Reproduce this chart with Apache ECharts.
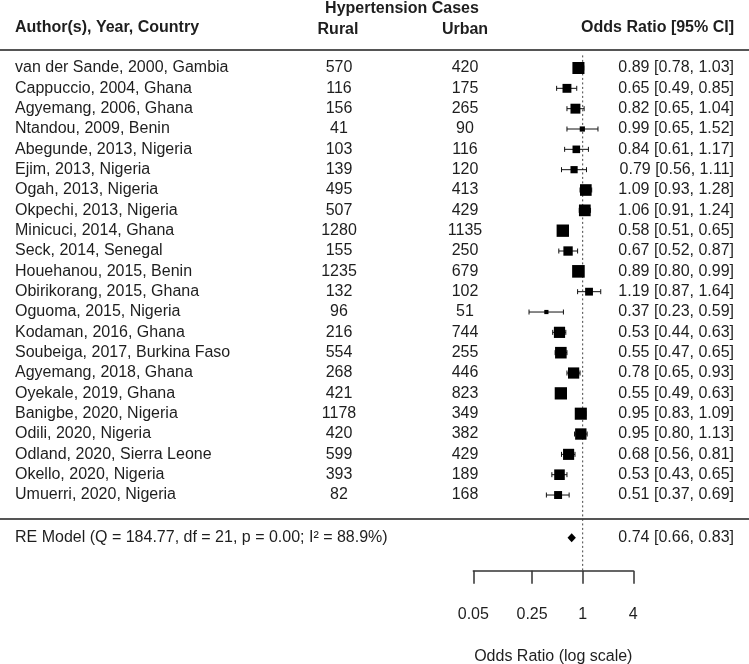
<!DOCTYPE html>
<html><head><meta charset="utf-8">
<script src="https://cdn.jsdelivr.net/npm/echarts@6/dist/echarts.min.js"></script>
<style>html,body{margin:0;padding:0;background:#fff}#c{width:749px;height:664px}</style>
</head><body><div id="c"></div>
<script>
// ---------- data ----------
const studies = [
  'van der Sande, 2000, Gambia','Cappuccio, 2004, Ghana','Agyemang, 2006, Ghana','Ntandou, 2009, Benin',
  'Abegunde, 2013, Nigeria','Ejim, 2013, Nigeria','Ogah, 2013, Nigeria','Okpechi, 2013, Nigeria',
  'Minicuci, 2014, Ghana','Seck, 2014, Senegal','Houehanou, 2015, Benin','Obirikorang, 2015, Ghana',
  'Oguoma, 2015, Nigeria','Kodaman, 2016, Ghana','Soubeiga, 2017, Burkina Faso','Agyemang, 2018, Ghana',
  'Oyekale, 2019, Ghana','Banigbe, 2020, Nigeria','Odili, 2020, Nigeria','Odland, 2020, Sierra Leone',
  'Okello, 2020, Nigeria','Umuerri, 2020, Nigeria'
];
const rural = [570,116,156,41,103,139,495,507,1280,155,1235,132,96,216,554,268,421,1178,420,599,393,82];
const urban = [420,175,265,90,116,120,413,429,1135,250,679,102,51,744,255,446,823,349,382,429,189,168];
const oddsRatio = [0.89,0.65,0.82,0.99,0.84,0.79,1.09,1.06,0.58,0.67,0.89,1.19,0.37,0.53,0.55,0.78,0.55,0.95,0.95,0.68,0.53,0.51];
const ciLower  = [0.78,0.49,0.65,0.65,0.61,0.56,0.93,0.91,0.51,0.52,0.80,0.87,0.23,0.44,0.47,0.65,0.49,0.83,0.80,0.56,0.43,0.37];
const ciUpper  = [1.03,0.85,1.04,1.52,1.17,1.11,1.28,1.24,0.65,0.87,0.99,1.64,0.59,0.63,0.65,0.93,0.63,1.09,1.13,0.81,0.65,0.69];
const pooled = {or: 0.74, lo: 0.66, hi: 0.83};
const modelLabel = 'RE Model (Q = 184.77, df = 21, p = 0.00; I\u00B2 = 88.9%)';
const tickValues = [0.05, 0.25, 1, 4];
const tickLabels = ['0.05', '0.25', '1', '4'];

// ---------- derived: random-effects weights (DerSimonian-Laird) for marker sizes ----------
const k = oddsRatio.length;
const yi = oddsRatio.map(Math.log);
const vi = ciLower.map((l, i) => Math.pow((Math.log(ciUpper[i]) - Math.log(l)) / 3.92, 2));
const wf = vi.map(v => 1 / v);
const sw = wf.reduce((a, b) => a + b, 0);
const ybar = wf.reduce((a, w, i) => a + w * yi[i], 0) / sw;
const Q = wf.reduce((a, w, i) => a + w * Math.pow(yi[i] - ybar, 2), 0);
const sw2 = wf.reduce((a, w) => a + w * w, 0);
const tau2 = Math.max(0, (Q - (k - 1)) / (sw - sw2 / sw));
const wr = vi.map(v => 1 / (v + tau2));
const wmin = Math.min(...wr), wmax = Math.max(...wr);
const psize = wr.map(w => 0.5 + (w - wmin) / (wmax - wmin)); // 0.5 .. 1.5

const fmt = v => v.toFixed(2);
const TXT = '#1e1e1e';
const FONT = '"Liberation Sans", Arial, sans-serif';

const rowData = oddsRatio.map((o, i) => [i, Math.log(o), Math.log(ciLower[i]), Math.log(ciUpper[i]), psize[i]]);
const RE_ROW = 23.1;

function txt(x, y, s, align, bold) {
  return {type: 'text', x: x, y: y, style: {text: s, x: 0, y: 0, align: align, verticalAlign: 'middle',
    fill: TXT, font: (bold ? 'bold ' : '') + '16px ' + FONT}};
}

function renderRow(params, api) {
  const i = api.value(0);
  const cMid = api.coord([api.value(1), i]);
  const cLo = api.coord([api.value(2), i]);
  const cHi = api.coord([api.value(3), i]);
  const y = cMid[1];
  const s = api.value(4) * 8.4;
  const cap = 2.5;
  const st = {stroke: '#111', lineWidth: 1};
  return {type: 'group', children: [
    txt(15, y, studies[i], 'left'),
    txt(339, y, String(rural[i]), 'center'),
    txt(465, y, String(urban[i]), 'center'),
    {type: 'line', shape: {x1: cLo[0], y1: y, x2: cHi[0], y2: y}, style: st},
    {type: 'line', shape: {x1: cLo[0], y1: y - cap, x2: cLo[0], y2: y + cap}, style: st},
    {type: 'line', shape: {x1: cHi[0], y1: y - cap, x2: cHi[0], y2: y + cap}, style: st},
    {type: 'rect', shape: {x: cMid[0] - s / 2, y: y - s / 2, width: s, height: s}, style: {fill: '#000'}},
    txt(734, y, fmt(oddsRatio[i]) + ' [' + fmt(ciLower[i]) + ', ' + fmt(ciUpper[i]) + ']', 'right')
  ]};
}

function renderPooled(params, api) {
  const r = api.value(0);
  const cMid = api.coord([api.value(1), r]);
  const cLo = api.coord([api.value(2), r]);
  const cHi = api.coord([api.value(3), r]);
  const y = cMid[1], h = 4.5;
  return {type: 'group', children: [
    txt(15, y, modelLabel, 'left'),
    {type: 'polygon', shape: {points: [[cLo[0], y], [cMid[0], y - h], [cHi[0], y], [cMid[0], y + h]]}, style: {fill: '#000'}},
    txt(734, y, fmt(pooled.or) + ' [' + fmt(pooled.lo) + ', ' + fmt(pooled.hi) + ']', 'right')
  ]};
}

function renderFrame(params, api) {
  const top = api.coord([0, -0.885])[1];
  const sep = api.coord([0, 22.18])[1];
  const rTop = api.coord([0, -0.62]);
  const rBot = api.coord([0, 24.72]);
  return {type: 'group', children: [
    {type: 'line', shape: {x1: 0, y1: top, x2: 749, y2: top}, style: {stroke: '#555', lineWidth: 2}},
    {type: 'line', shape: {x1: 0, y1: sep, x2: 749, y2: sep}, style: {stroke: '#555', lineWidth: 2}},
    {type: 'line', shape: {x1: rTop[0], y1: rTop[1], x2: rBot[0], y2: rBot[1]}, style: {stroke: '#444', lineWidth: 1, lineDash: [2, 2.5]}}
  ]};
}

const lnTicks = tickValues.map(Math.log);
const chart = echarts.init(document.getElementById('c'), null, {renderer: 'canvas'});
chart.setOption({
  animation: false,
  backgroundColor: '#fff',
  grid: {left: 473.3, right: 115.7, top: 47.67, bottom: 93.33, containLabel: false, outerBoundsMode: 'none'},
  xAxis: {
    type: 'value', position: 'bottom', min: lnTicks[0], max: lnTicks[lnTicks.length - 1],
    splitLine: {show: false},
    axisLine: {show: true, onZero: false, lineStyle: {color: '#333', width: 1.5}},
    axisTick: {show: true, length: 13, customValues: lnTicks, lineStyle: {color: '#333', width: 1.5}},
    axisLabel: {customValues: lnTicks, margin: 36, color: TXT, fontSize: 16, fontFamily: FONT,
      formatter: v => { let b = 0; lnTicks.forEach((t, j) => { if (Math.abs(t - v) < Math.abs(lnTicks[b] - v)) b = j; }); return tickLabels[b]; }},
    name: 'Odds Ratio (log scale)', nameLocation: 'middle', nameGap: 78,
    nameTextStyle: {color: TXT, fontSize: 16, fontFamily: FONT}
  },
  yAxis: {type: 'value', inverse: true, min: -1, max: 24.72, show: false},
  graphic: [
    {type: 'text', style: {text: 'Hypertension Cases', x: 402, y: 9, align: 'center', verticalAlign: 'middle', fill: TXT, font: 'bold 16px ' + FONT}},
    {type: 'text', style: {text: 'Author(s), Year, Country', x: 15, y: 28, align: 'left', verticalAlign: 'middle', fill: TXT, font: 'bold 16px ' + FONT}},
    {type: 'text', style: {text: 'Rural', x: 338, y: 30, align: 'center', verticalAlign: 'middle', fill: TXT, font: 'bold 16px ' + FONT}},
    {type: 'text', style: {text: 'Urban', x: 465, y: 30, align: 'center', verticalAlign: 'middle', fill: TXT, font: 'bold 16px ' + FONT}},
    {type: 'text', style: {text: 'Odds Ratio [95% CI]', x: 734, y: 28, align: 'right', verticalAlign: 'middle', fill: TXT, font: 'bold 16px ' + FONT}}
  ],
  series: [
    {type: 'custom', renderItem: renderFrame, data: [[0, 0]], encode: {x: 0, y: 1}, silent: true, z: 1},
    {type: 'custom', renderItem: renderRow, data: rowData, encode: {x: 1, y: 0}, z: 3},
    {type: 'custom', renderItem: renderPooled, data: [[RE_ROW, Math.log(pooled.or), Math.log(pooled.lo), Math.log(pooled.hi)]], encode: {x: 1, y: 0}, z: 3}
  ]
});
</script>
</body></html>
